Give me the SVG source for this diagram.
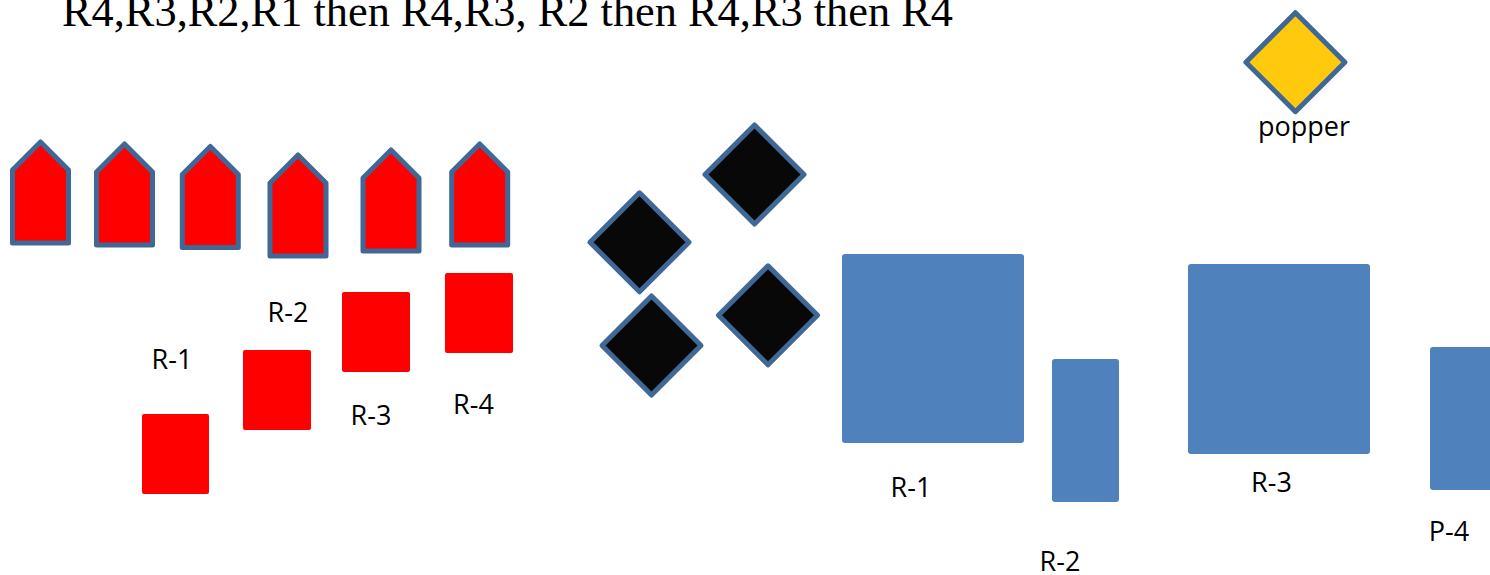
<svg xmlns="http://www.w3.org/2000/svg" width="1490" height="575" viewBox="0 0 1490 575">
<style>
.lbl{font-family:"Open Sans","Liberation Sans",sans-serif;font-size:27px;fill:#000;text-anchor:middle}
.title{font-family:"Liberation Serif","DejaVu Serif",serif;font-size:44px;fill:#000}
.house{fill:#ff0000;stroke:#3f6897;stroke-width:5;stroke-linejoin:round}
.red{fill:#ff0000}
.dia{fill:#080808;stroke:#3f6897;stroke-width:5;stroke-linejoin:round}
.yel{fill:#ffc90e;stroke:#3f6897;stroke-width:5;stroke-linejoin:round}
.blue{fill:#4f81bd}
</style>
<defs>
<path id="hs" d="M0,0 L28,28 L28,101 L-28,101 L-28,28 Z"/>
<path id="dm" d="M0,-49.5 L49.5,0 L0,49.5 L-49.5,0 Z"/>
</defs>
<rect width="1490" height="575" fill="#fff"/>
<g id="title"><text class="title" x="62" y="26" textLength="891" lengthAdjust="spacingAndGlyphs">R4,R3,R2,R1 then R4,R3, R2 then R4,R3 then R4</text></g>
<g id="houses">
<g id="house1"><use href="#hs" class="house" transform="translate(40.5,142)"/></g>
<g id="house2"><use href="#hs" class="house" transform="translate(124.5,144)"/></g>
<g id="house3"><use href="#hs" class="house" transform="translate(210.3,146.5)"/></g>
<g id="house4"><use href="#hs" class="house" transform="translate(298,155)"/></g>
<g id="house5"><use href="#hs" class="house" transform="translate(391,150)"/></g>
<g id="house6"><use href="#hs" class="house" transform="translate(479.7,144)"/></g>
</g>
<g id="redR1"><rect class="red" x="142" y="414" width="67" height="80" rx="2"/><text class="lbl" x="172" y="369">R-1</text></g>
<g id="redR2"><rect class="red" x="243" y="350" width="68" height="80" rx="2"/><text class="lbl" x="288" y="322">R-2</text></g>
<g id="redR3"><rect class="red" x="342" y="292" width="68" height="80" rx="2"/><text class="lbl" x="371" y="425">R-3</text></g>
<g id="redR4"><rect class="red" x="445" y="273" width="68" height="80" rx="2"/><text class="lbl" x="473.5" y="414">R-4</text></g>
<g id="diamonds">
<g id="d1"><use href="#dm" class="dia" transform="translate(754.5,174.5)"/></g>
<g id="d2"><use href="#dm" class="dia" transform="translate(639.5,242.3)"/></g>
<g id="d3"><use href="#dm" class="dia" transform="translate(651.5,345.5)"/></g>
<g id="d4"><use href="#dm" class="dia" transform="translate(768,315.3)"/></g>
</g>
<g id="popper"><use href="#dm" class="yel" transform="translate(1295.4,62.2)"/><text class="lbl" x="1304" y="136">popper</text></g>
<g id="blueR1"><rect class="blue" x="842" y="254" width="182" height="189" rx="3"/><text class="lbl" x="911" y="497">R-1</text></g>
<g id="blueR2"><rect class="blue" x="1052" y="359" width="67" height="143" rx="3"/><text class="lbl" x="1060" y="571">R-2</text></g>
<g id="blueR3"><rect class="blue" x="1188" y="264" width="182" height="190" rx="3"/><text class="lbl" x="1271.5" y="492">R-3</text></g>
<g id="blueP4"><rect class="blue" x="1430" y="347" width="67" height="143" rx="3"/><text class="lbl" x="1449" y="541">P-4</text></g>
<g id="connectors"/>
</svg>
